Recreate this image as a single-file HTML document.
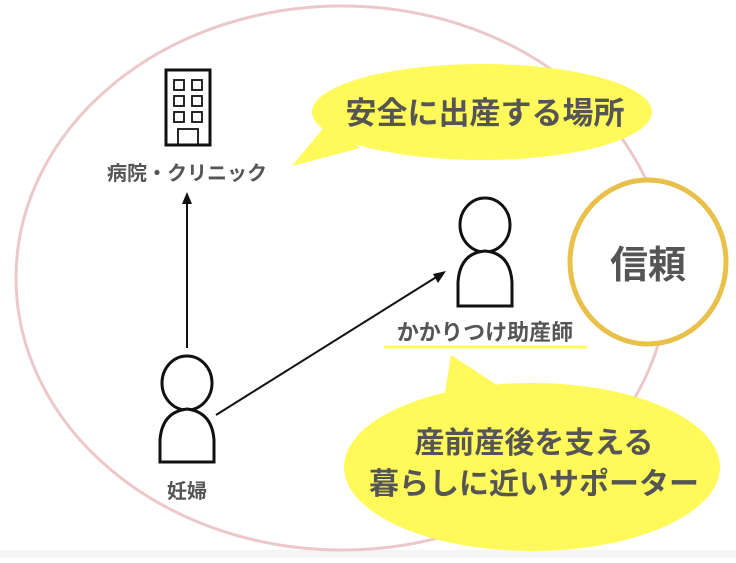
<!DOCTYPE html>
<html><head><meta charset="utf-8"><style>
body{margin:0;background:#fff;}
svg text{font-family:"Liberation Sans","Noto Sans CJK JP",sans-serif;font-weight:bold;fill:#555;}
</style></head><body>
<svg width="736" height="558" viewBox="0 0 736 558" xmlns="http://www.w3.org/2000/svg">
<rect width="736" height="558" fill="#fff"/>
<rect y="550" width="736" height="8" fill="#f3f5f7"/>
<ellipse cx="342" cy="278" rx="326" ry="272" fill="none" stroke="#ecc8c8" stroke-width="3"/>
<!-- top bubble -->
<ellipse cx="482" cy="112" rx="170" ry="48" fill="#fff95a"/>
<polygon points="330,120 360,148 292,166" fill="#fff95a"/>
<text x="485" y="124" font-size="31" text-anchor="middle">安全に出産する場所</text>
<!-- building -->
<rect x="166" y="70" width="44" height="75" fill="#fff" stroke="#111" stroke-width="3"/>
<g fill="none" stroke="#111" stroke-width="1.8">
<rect x="174" y="80" width="10" height="10"/><rect x="192" y="80" width="10" height="10"/>
<rect x="174" y="96" width="10" height="10"/><rect x="192" y="96" width="10" height="10"/>
<rect x="174" y="112" width="10" height="10"/><rect x="192" y="112" width="10" height="10"/>
<rect x="178" y="129" width="20" height="16"/>
</g>
<text x="187" y="180" font-size="20" text-anchor="middle" fill="#444">病院・クリニック</text>
<!-- arrows -->
<line x1="187" y1="348" x2="187" y2="200" stroke="#111" stroke-width="2"/>
<polygon points="187,192 182,204 192,204" fill="#111"/>
<line x1="216" y1="415" x2="438" y2="276" stroke="#111" stroke-width="2"/>
<polygon points="446,271 433,274 438,283" fill="#111"/>
<!-- woman -->
<ellipse cx="187" cy="383" rx="25" ry="27" fill="#fff" stroke="#111" stroke-width="3"/>
<path d="M160,462 L160,440 Q162,412 187,409 Q212,412 214,440 L214,462 Z" fill="#fff" stroke="#111" stroke-width="3"/>
<text x="187" y="498" font-size="20" text-anchor="middle" fill="#444">妊婦</text>
<!-- midwife -->
<ellipse cx="485" cy="225" rx="25" ry="27" fill="#fff" stroke="#111" stroke-width="3"/>
<path d="M458,306 L458,282 Q460,253 485,251 Q510,253 512,282 L512,306 Z" fill="#fff" stroke="#111" stroke-width="3"/>
<text x="485" y="340" font-size="22" text-anchor="middle" fill="#444">かかりつけ助産師</text>
<line x1="384" y1="347" x2="587" y2="347" stroke="#fff95a" stroke-width="3"/>
<!-- trust -->
<ellipse cx="648" cy="262" rx="78" ry="82" fill="#fff" stroke="#e8c04a" stroke-width="5"/>
<text x="648" y="278" font-size="38" text-anchor="middle">信頼</text>
<!-- bottom bubble -->
<ellipse cx="532" cy="467" rx="188" ry="84" fill="#fff95a"/>
<polygon points="451,355 512,395 443,405" fill="#fff95a"/>
<text x="534" y="453" font-size="30" text-anchor="middle">産前産後を支える</text>
<text x="534" y="494" font-size="30" text-anchor="middle">暮らしに近いサポーター</text>
</svg>
</body></html>
